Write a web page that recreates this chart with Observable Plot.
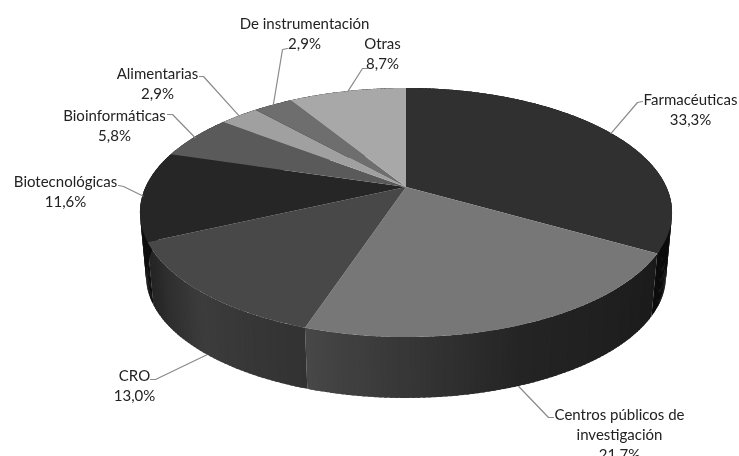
<!DOCTYPE html>
<html><head><meta charset="utf-8">
<script src="https://cdn.jsdelivr.net/npm/d3@7"></script>
<script src="https://cdn.jsdelivr.net/npm/@observablehq/plot@0.6"></script>
<style>html,body{margin:0;padding:0;background:#fff}svg{display:block}</style>
</head><body><div id="chart"></div>
<script>
const categories = ["Farmacéuticas","Centros públicos de\ninvestigación","CRO","Biotecnológicas","Bioinformáticas","Alimentarias","De instrumentación","Otras"];
const shares = [33.3,21.7,13.0,11.6,5.8,2.9,2.9,8.7];
const topColors = ["#303030","#777777","#484848","#262626","#5a5a5a","#a0a0a0","#6e6e6e","#a8a8a8"];
// side shading: colour at slice start, middle and end
const sideColors = [["#0c0c0c","#0c0c0c","#0c0c0c"],["#1b1b1b","#242424","#474747"],["#323232","#3c3c3c","#222222"],["#0e0e0e","#0e0e0e","#0e0e0e"],["#222","#222","#222"],["#222","#222","#222"],["#222","#222","#222"],["#222","#222","#222"]];
const labelX = [690,619,134,65,114,157,304,382];
const labelY = [108,433,384,190,124,82,32,52];
const elbows = [[[637,102],[642,101]],[[548,417],[553,417]],[[155,379],[150,379]],[[123,186],[118,185]],[[172,114],[167,114]],[[203,76],[199,76]],[[282,49],[287,48]],[[362,68],[367,68]]];
const onBottomRim = [false,true,true,false,false,false,false,false];

// perspective disc model
const persp = 0.205;
const topDisc = {cx:406, cy:187, a:119.3, c:260.4};
const botDisc = {cx:406, cy:251.4, a:116.5, c:254.4};
const project = (d, t) => { const u = Math.sin(t), v = -Math.cos(t), k = 1 - persp*v;
  return [d.cx + d.c*u/k, d.cy + d.a*v/k]; };

const arcs = d3.pie().sort(null).value(d => d)(shares);
const fmt = v => v.toFixed(1).replace(".", ",") + "%";
const step = Math.PI/180;

const fan = [], strips = [];
arcs.forEach((arc,i) => {
  const span = arc.endAngle-arc.startAngle;
  const n = Math.max(2, Math.ceil(span/step));
  const shade = d3.scaleLinear().domain([0,.5,1]).range(sideColors[i]);
  for (let k=0;k<=n;k++){
    const t = arc.startAngle + span*k/n;
    const [x,y] = project(topDisc,t);
    fan.push({key:categories[i],x1:topDisc.cx,y1:topDisc.cy,x2:x,y2:y});
    if (k<n){
      const t2 = arc.startAngle + span*(k+1.6)/n;
      const col = d3.color(shade((k+.5)/n)).formatHex();
      const id = i+"-"+String(k).padStart(3,"0"), depth = i + k/1000;
      [t,Math.min(t2,arc.endAngle)].forEach(q=>{ const a=project(topDisc,q), b=project(botDisc,q);
        strips.push({id,col,depth,x1:a[0],y1:a[1],x2:b[0],y2:b[1]}); });
    }
  }
});
strips.sort((a,b)=>a.depth-b.depth);

const leaders = arcs.flatMap((arc,i)=>{
  const mid=(arc.startAngle+arc.endAngle)/2;
  const p=project(onBottomRim[i]?botDisc:topDisc,mid);
  return [p,...elbows[i]].map(q=>({i,x:q[0],y:q[1]}));
});
const labels = categories.map((c,i)=>({text:c+"\n"+fmt(shares[i]),x:labelX[i],y:labelY[i]}));

const chart = Plot.plot({
  width:739,height:456,margin:0,
  x:{domain:[0,739],range:[0,739],axis:null},
  y:{domain:[0,456],range:[0,456],axis:null},
  color:{domain:categories,range:topColors},
  style:{background:"#fff"},
  marks:[
    Plot.area(strips,{x1:"x1",y1:"y1",x2:"x2",y2:"y2",z:"id",fill:"col",curve:"linear"}),
    Plot.area(fan,{x1:"x1",y1:"y1",x2:"x2",y2:"y2",z:"key",fill:"key",curve:"linear"}),
    Plot.line(leaders,{x:"x",y:"y",z:"i",stroke:"#8a8a8a",strokeWidth:1.2,curve:"linear"}),
    Plot.text(labels,{x:"x",y:"y",text:"text",fontFamily:"Lato",fontSize:15,fill:"#222",lineHeight:1.35,textAnchor:"middle"})
  ]
});
chart.style.filter="blur(0.4px)";
document.getElementById("chart").append(chart);
</script></body></html>
